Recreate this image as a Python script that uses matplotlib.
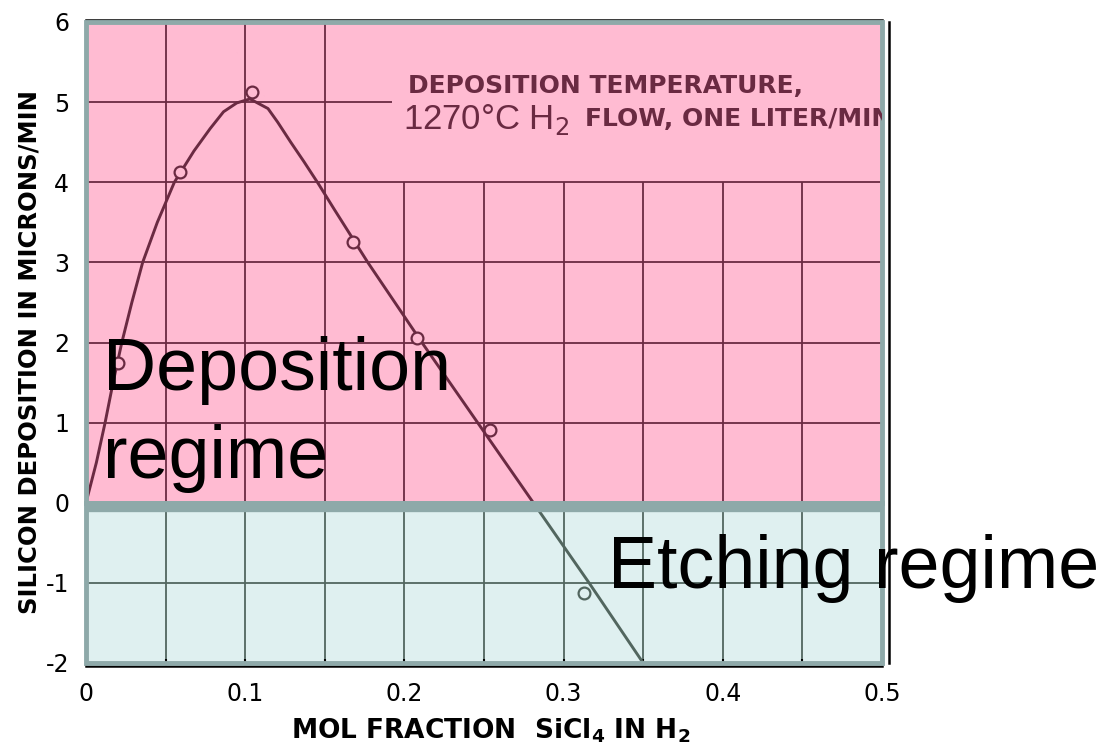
import numpy as np
import matplotlib.pyplot as plt
from matplotlib.patches import Rectangle

# growth curve (mol fraction SiCl4, microns/min)
curve_x = [0.0, 0.0065, 0.012, 0.017, 0.0225, 0.0288, 0.0356, 0.0448, 0.0555,
           0.0678, 0.078, 0.0864, 0.0947, 0.103, 0.1143, 0.1204, 0.1286, 0.1368,
           0.146, 0.156, 0.1665, 0.177, 0.211, 0.246, 0.281, 0.316, 0.35]
curve_y = [0.0, 0.5, 1.0, 1.5, 2.0, 2.5, 3.0, 3.5, 4.0,
           4.39, 4.67, 4.88, 4.99, 5.04, 4.92, 4.75, 4.5, 4.26,
           3.98, 3.66, 3.33, 3.0, 2.0, 1.0, 0.0, -1.0, -2.0]

# measured points (open circles)
pts_x = [0.020, 0.059, 0.104, 0.168, 0.208, 0.254, 0.313]
pts_y = [1.75, 4.13, 5.13, 3.25, 2.06, 0.91, -1.13]

xticks = [0, 0.1, 0.2, 0.3, 0.4, 0.5]
xlabels = ['0', '0.1', '0.2', '0.3', '0.4', '0.5']
yticks = [-2, -1, 0, 1, 2, 3, 4, 5, 6]
ylabels = ['-2', '-1', '0', '1', '2', '3', '4', '5', '6']

# grid of the original graph paper (some lines stop short near the note)
grid_x = [0.05, 0.1, 0.15, 0.2, 0.25, 0.3, 0.35, 0.4, 0.45]
grid_x_top = [6, 6, 6, 4, 4, 4, 4, 4, 4]
grid_y = [-1, 1, 2, 3, 4, 5]
grid_y_right = [0.5, 0.5, 0.5, 0.5, 0.5, 0.192]

pink = '#ffbbd2'
teal = '#dff0f0'
edge = '#8ea9a9'
maroon = '#6a2a42'
slate = '#52665f'

fig = plt.figure(figsize=(11.07, 7.49), dpi=100)
ax = fig.add_axes([86/1107, 86/749, 796/1107, 641/749])
ax.set_xlim(0, 0.5)
ax.set_ylim(-2, 6)

pink_bg = Rectangle((0, 0), 0.5, 6, facecolor=pink, edgecolor='none', zorder=0)
teal_bg = Rectangle((0, -2), 0.5, 2, facecolor=teal, edgecolor='none', zorder=0)
ax.add_patch(pink_bg)
ax.add_patch(teal_bg)

for col, fill, clip in [(maroon, pink, pink_bg), (slate, teal, teal_bg)]:
    v = ax.vlines(grid_x, -2, grid_x_top, colors=col, lw=1.3, zorder=1)
    v.set_clip_path(clip)
    h = ax.hlines(grid_y, 0, grid_y_right, colors=col, lw=1.3, zorder=1)
    h.set_clip_path(clip)
    ln, = ax.plot(curve_x, curve_y, color=col, lw=2.1, zorder=3,
                  solid_joinstyle='round', solid_capstyle='round')
    ln.set_clip_path(clip)
    mk, = ax.plot(pts_x, pts_y, 'o', mfc=fill, mec=col, ms=8.5, mew=1.6, zorder=3)
    mk.set_clip_path(clip)

# the grey-teal frames round the two regimes
ax.add_patch(Rectangle((0, 0), 0.5, 6, fill=False, edgecolor=edge, lw=3.5, zorder=4, clip_on=False))
ax.add_patch(Rectangle((0, -2), 0.5, 2, fill=False, edgecolor=edge, lw=3.5, zorder=4, clip_on=False))
ax.axhline(-0.06, color=edge, lw=6, zorder=4)

# note on the graph
ax.text(0.2023, 5.12, 'DEPOSITION TEMPERATURE,', color=maroon, fontsize=18,
        fontweight='bold', va='baseline', zorder=5)
ax.text(0.199, 4.66, '1270\u00b0C H$_2$', color=maroon, fontsize=25,
        family='Liberation Sans', va='baseline', zorder=5)
ax.text(0.3135, 4.7, 'FLOW, ONE LITER/MIN', color=maroon, fontsize=18,
        fontweight='bold', va='baseline', zorder=5, clip_on=True)

ax.tick_params(axis='y', length=0, pad=12, labelsize=17)
ax.tick_params(axis='x', which='both', direction='in', length=5, width=1.5,
               pad=12, labelsize=17)
ax.set_xticks(xticks)
ax.set_xticklabels(xlabels, fontsize=17)
ax.set_xticks(np.arange(0, 0.55, 0.05), minor=True)
ax.set_yticks(yticks)
ax.set_yticklabels(ylabels, fontsize=17, fontweight='bold')

ax.spines['left'].set_visible(False)
for s, off in [('top', 1.5), ('right', 5), ('bottom', 2)]:
    ax.spines[s].set_position(('outward', off))
    ax.spines[s].set_linewidth(1.8)

fig.text(0.027, 0.53, 'SILICON DEPOSITION IN MICRONS/MIN', rotation=90,
         fontsize=17.5, fontweight='bold', ha='center', va='center')
fig.text(0.443, 0.024, r'MOL FRACTION  SiCl$_\mathbf{4}$ IN H$_\mathbf{2}$',
         fontsize=19, fontweight='bold', ha='center', va='center')

big = dict(fontsize=53, family='Liberation Sans', color='black', va='baseline', zorder=10)
fig.text(103/1107, (749-390)/749, 'Deposition', **big)
fig.text(103/1107, (749-478)/749, 'regime', **big)
fig.text(608/1107, (749-588)/749, 'Etching regime', **big)

fig.savefig('out.png', dpi=100)
